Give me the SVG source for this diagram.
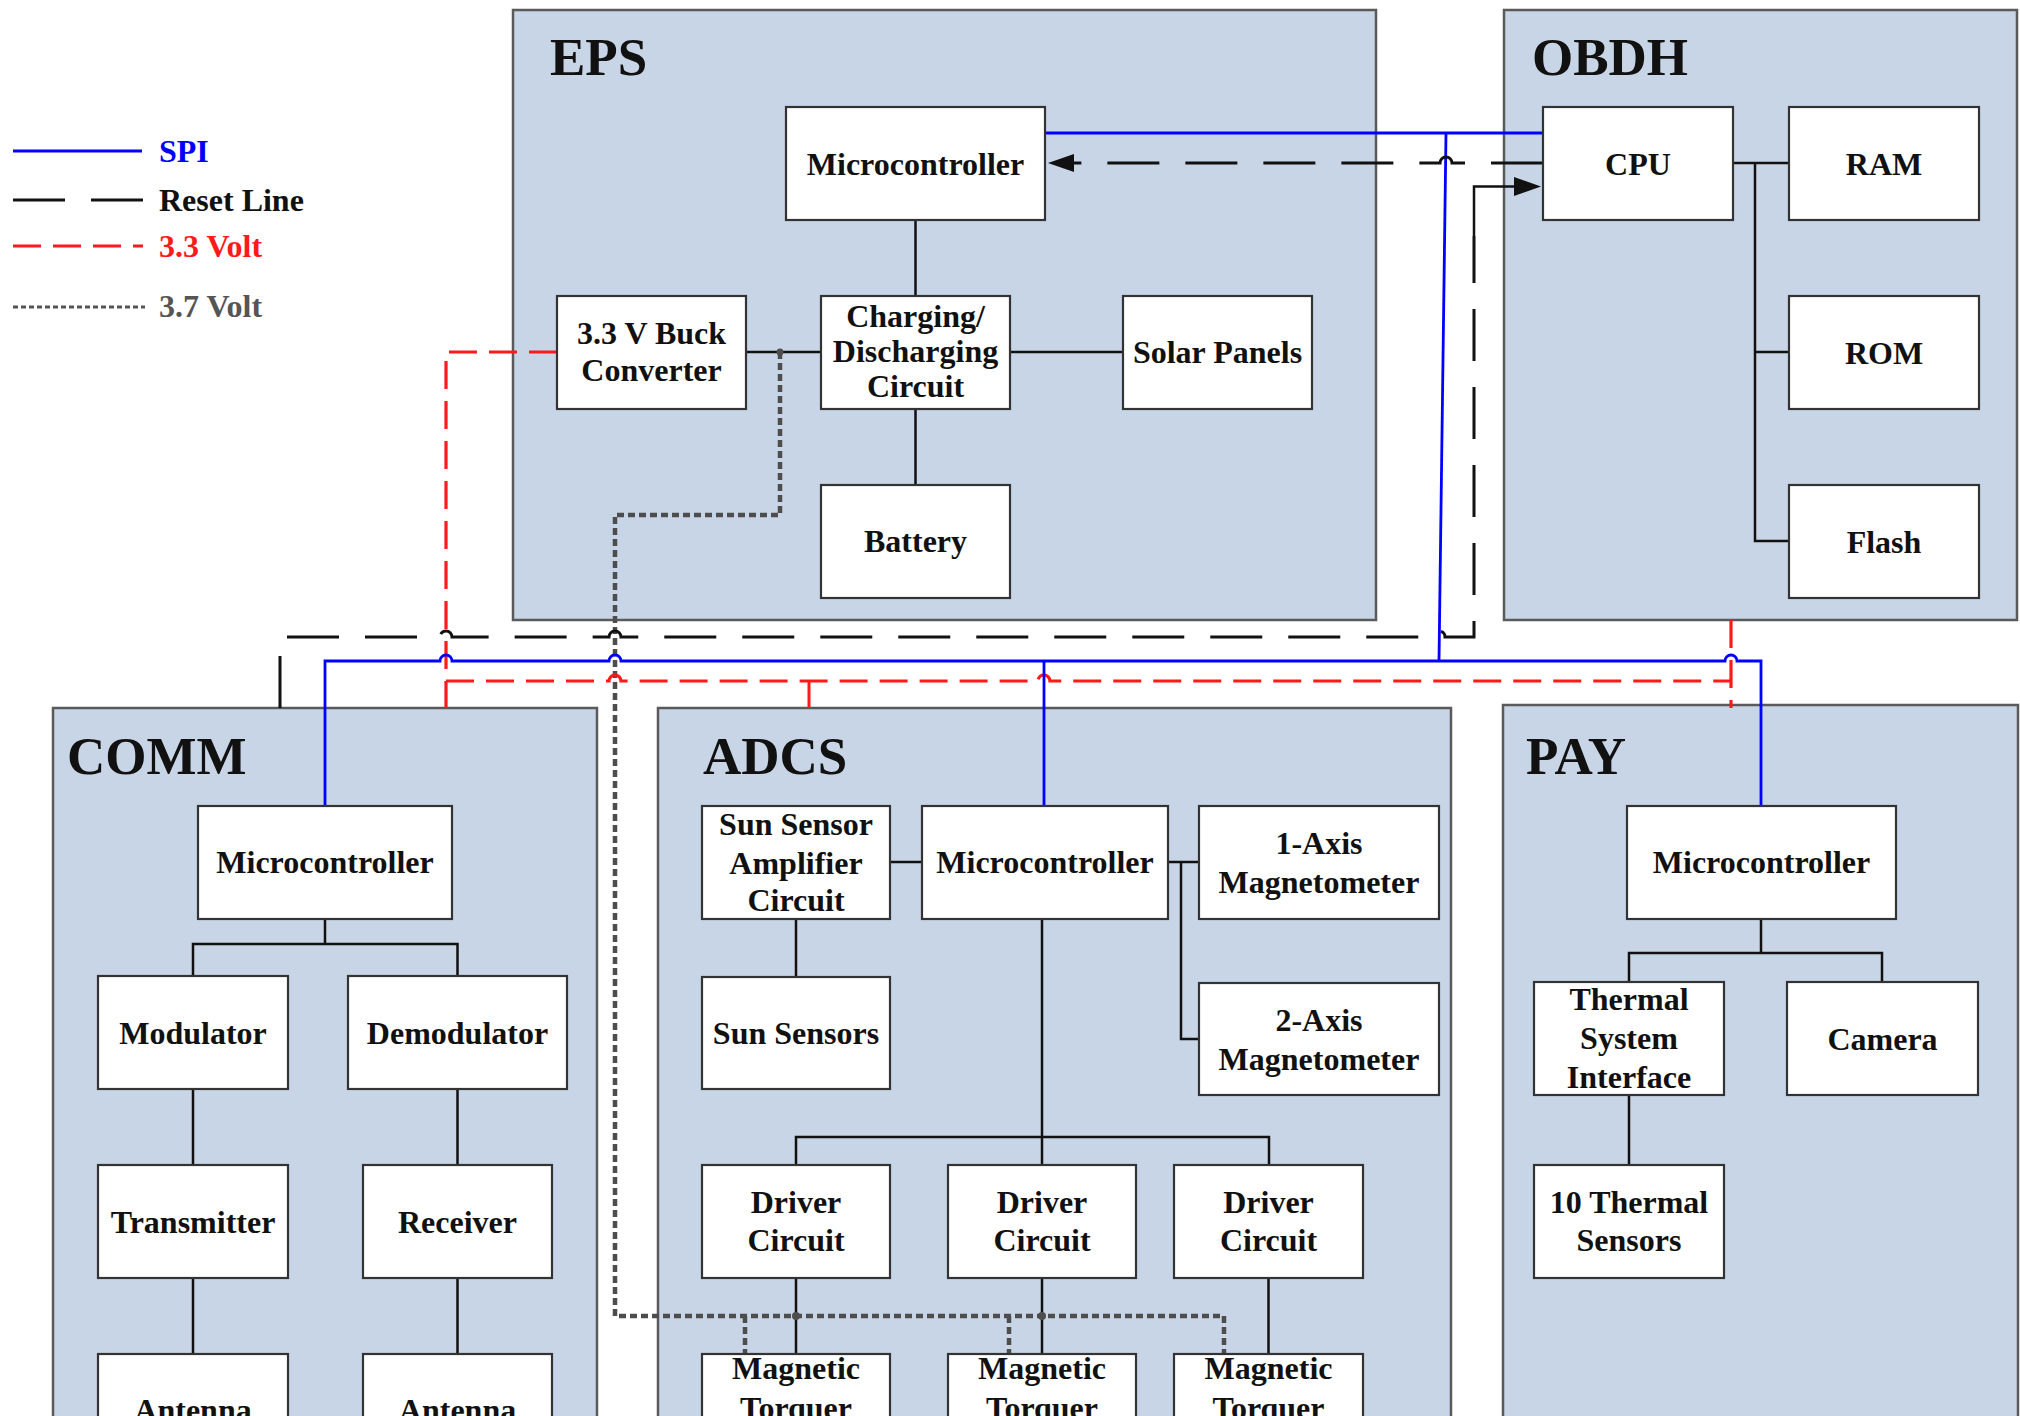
<svg xmlns="http://www.w3.org/2000/svg" width="2020" height="1416" viewBox="0 0 2020 1416">
<defs>
<style>
.container{fill:#C8D5E6;stroke:#5a5a5a;stroke-width:2.5}
.node rect{fill:#ffffff;stroke:#333333;stroke-width:2.2}
.lbl{font-family:"Liberation Serif","Times New Roman",serif;font-weight:bold;font-size:32px;fill:#111111;text-anchor:middle}
.title{font-family:"Liberation Serif","Times New Roman",serif;font-weight:bold;font-size:53px;fill:#111111}
.leg{font-family:"Liberation Serif","Times New Roman",serif;font-weight:bold;font-size:32px}
.wire{fill:none;stroke:#111111;stroke-width:2.5}
.spi{fill:none;stroke:#0000ff;stroke-width:2.8}
.v33{fill:none;stroke:#ff1a1a;stroke-width:3.2;stroke-dasharray:28 12}
.v37{fill:none;stroke:#4d4d4d;stroke-width:4.5;stroke-dasharray:7 4}
.reset{fill:none;stroke:#111111;stroke-width:3;stroke-dasharray:52 26}
</style>
</defs>
<rect x="0" y="0" width="2020" height="1416" fill="#ffffff"/>

<g id="legend">
<line x1="13" y1="151" x2="142" y2="151" class="spi" stroke-width="3.2"/>
<text x="159" y="162" class="leg" fill="#0000ff">SPI</text>
<line x1="13" y1="200" x2="143" y2="200" class="reset" stroke-width="3.5"/>
<text x="159" y="211" class="leg" fill="#111111">Reset Line</text>
<line x1="13" y1="246" x2="143" y2="246" class="v33"/>
<text x="159" y="257" class="leg" fill="#ff1a1a">3.3 Volt</text>
<line x1="13" y1="307" x2="145" y2="307" fill="none" stroke="#555555" stroke-width="3" stroke-dasharray="5 3"/>
<text x="159" y="317" class="leg" fill="#555555">3.7 Volt</text>
</g>

<g id="eps">
<rect class="container" x="513" y="10" width="863" height="610"/>
<text class="title" x="550" y="75">EPS</text>
</g>
<g id="obdh">
<rect class="container" x="1504" y="10" width="513" height="610"/>
<text class="title" x="1532" y="75">OBDH</text>
</g>
<g id="comm">
<rect class="container" x="53" y="708" width="544" height="730"/>
<text class="title" x="67" y="774">COMM</text>
</g>
<g id="adcs">
<rect class="container" x="658" y="708" width="793" height="730"/>
<text class="title" x="703" y="774">ADCS</text>
</g>
<g id="pay">
<rect class="container" x="1503" y="705" width="515" height="730"/>
<text class="title" x="1526" y="774">PAY</text>
</g>

<g id="connectors">
<!-- EPS internal -->
<path class="wire" d="M915.5,220 V296 M746,352 H821 M1010,352 H1123 M915.5,409 V485"/>
<!-- OBDH internal -->
<path class="wire" d="M1733,163 H1789 M1755,163 V541 H1789 M1755,352 H1789"/>
<!-- COMM internal -->
<path class="wire" d="M325,919 V944 M193,976 V944 H457.5 V976 M193,1089 V1165 M457.5,1089 V1165 M193,1278 V1354 M457.5,1278 V1354"/>
<!-- ADCS internal -->
<path class="wire" d="M890,862 H922 M1168,862 H1199 M1181,862 V1039 H1199 M796,919 V977 M1042,919 V1165 M796,1165 V1137 H1269 V1165 M796,1278 V1354 M1042,1278 V1354 M1268.5,1278 V1354"/>
<!-- PAY internal -->
<path class="wire" d="M1761,919 V953 M1629,982 V953 H1882 V982 M1629,1095 V1165"/>

<!-- 3.7 V -->
<path class="v37" d="M780,352 V515 H615 V1316 H1224 V1354"/>
<path class="v37" d="M745,1316 V1354 M1009,1316 V1354"/>
<circle cx="780" cy="352" r="3.5" fill="#4d4d4d"/>
<circle cx="796" cy="1316" r="4" fill="#4d4d4d"/>
<circle cx="1042" cy="1316" r="4" fill="#4d4d4d"/>

<!-- 3.3 V -->
<path class="v33" d="M557,352 H446 V708"/>
<path class="v33" d="M446,681 H609 a6,6 0 0 1 12,0 H1038 a6,6 0 0 1 12,0 H1731"/>
<path fill="none" stroke="#ff1a1a" stroke-width="3" d="M809,681 V708"/>
<path class="v33" stroke-dasharray="40 10" d="M1731,620 V708"/>

<!-- SPI -->
<path class="spi" d="M1045,133 H1543"/>
<path class="spi" d="M1446,133 L1439,661"/>
<path class="spi" d="M325,806 V661 H440 a6,6 0 0 1 12,0 H609 a6,6 0 0 1 12,0 H1725 a6,6 0 0 1 12,0 H1761 V806"/>
<path class="spi" d="M1044,661 V806"/>

<!-- Reset lines -->
<path class="reset" d="M280,708 V637 H440 a6,6 0 0 1 12,0 H609 a6,6 0 0 1 12,0 H1433 a6,6 0 0 1 12,0 H1474 V236"/>
<path class="wire" stroke-width="3" d="M1474,236 V186.5 H1517"/>
<polygon points="1541,186.5 1514,177 1514,196" fill="#111111"/>
<path class="reset" d="M1543,163 H1452 a6,6 0 0 0 -12,0 H1072"/>
<polygon points="1048,163 1074,154 1074,172" fill="#111111"/>
</g>

<!-- EPS nodes -->
<g id="eps-mcu" class="node"><rect x="786" y="107" width="259" height="113"/><text class="lbl" x="915.5" y="175">Microcontroller</text></g>
<g id="eps-buck" class="node"><rect x="557" y="296" width="189" height="113"/><text class="lbl" x="651.5" y="344">3.3 V Buck</text><text class="lbl" x="651.5" y="381">Converter</text></g>
<g id="eps-charge" class="node"><rect x="821" y="296" width="189" height="113"/><text class="lbl" x="915.5" y="327" font-size="30">Charging/</text><text class="lbl" x="915.5" y="362" font-size="30">Discharging</text><text class="lbl" x="915.5" y="397" font-size="30">Circuit</text></g>
<g id="eps-solar" class="node"><rect x="1123" y="296" width="189" height="113"/><text class="lbl" x="1217.5" y="363">Solar Panels</text></g>
<g id="eps-battery" class="node"><rect x="821" y="485" width="189" height="113"/><text class="lbl" x="915.5" y="552">Battery</text></g>

<!-- OBDH nodes -->
<g id="obdh-cpu" class="node"><rect x="1543" y="107" width="190" height="113"/><text class="lbl" x="1638" y="175">CPU</text></g>
<g id="obdh-ram" class="node"><rect x="1789" y="107" width="190" height="113"/><text class="lbl" x="1884" y="175">RAM</text></g>
<g id="obdh-rom" class="node"><rect x="1789" y="296" width="190" height="113"/><text class="lbl" x="1884" y="364">ROM</text></g>
<g id="obdh-flash" class="node"><rect x="1789" y="485" width="190" height="113"/><text class="lbl" x="1884" y="553">Flash</text></g>

<!-- COMM nodes -->
<g id="comm-mcu" class="node"><rect x="198" y="806" width="254" height="113"/><text class="lbl" x="325" y="873">Microcontroller</text></g>
<g id="comm-mod" class="node"><rect x="98" y="976" width="190" height="113"/><text class="lbl" x="193" y="1044">Modulator</text></g>
<g id="comm-demod" class="node"><rect x="348" y="976" width="219" height="113"/><text class="lbl" x="457.5" y="1044">Demodulator</text></g>
<g id="comm-tx" class="node"><rect x="98" y="1165" width="190" height="113"/><text class="lbl" x="193" y="1233">Transmitter</text></g>
<g id="comm-rx" class="node"><rect x="363" y="1165" width="189" height="113"/><text class="lbl" x="457.5" y="1233">Receiver</text></g>
<g id="comm-ant1" class="node"><rect x="98" y="1354" width="190" height="113"/><text class="lbl" x="193" y="1421">Antenna</text></g>
<g id="comm-ant2" class="node"><rect x="363" y="1354" width="189" height="113"/><text class="lbl" x="457.5" y="1421">Antenna</text></g>

<!-- ADCS nodes -->
<g id="adcs-ssa" class="node"><rect x="702" y="806" width="188" height="113"/><text class="lbl" x="796" y="835">Sun Sensor</text><text class="lbl" x="796" y="874">Amplifier</text><text class="lbl" x="796" y="911">Circuit</text></g>
<g id="adcs-mcu" class="node"><rect x="922" y="806" width="246" height="113"/><text class="lbl" x="1045" y="873">Microcontroller</text></g>
<g id="adcs-mag1" class="node"><rect x="1199" y="806" width="240" height="113"/><text class="lbl" x="1319" y="854">1-Axis</text><text class="lbl" x="1319" y="893">Magnetometer</text></g>
<g id="adcs-sun" class="node"><rect x="702" y="977" width="188" height="112"/><text class="lbl" x="796" y="1044">Sun Sensors</text></g>
<g id="adcs-mag2" class="node"><rect x="1199" y="983" width="240" height="112"/><text class="lbl" x="1319" y="1031">2-Axis</text><text class="lbl" x="1319" y="1070">Magnetometer</text></g>
<g id="adcs-drv1" class="node"><rect x="702" y="1165" width="188" height="113"/><text class="lbl" x="796" y="1213">Driver</text><text class="lbl" x="796" y="1251">Circuit</text></g>
<g id="adcs-drv2" class="node"><rect x="948" y="1165" width="188" height="113"/><text class="lbl" x="1042" y="1213">Driver</text><text class="lbl" x="1042" y="1251">Circuit</text></g>
<g id="adcs-drv3" class="node"><rect x="1174" y="1165" width="189" height="113"/><text class="lbl" x="1268.5" y="1213">Driver</text><text class="lbl" x="1268.5" y="1251">Circuit</text></g>
<g id="adcs-mt1" class="node"><rect x="702" y="1354" width="188" height="113"/><text class="lbl" x="796" y="1379">Magnetic</text><text class="lbl" x="796" y="1419">Torquer</text></g>
<g id="adcs-mt2" class="node"><rect x="948" y="1354" width="188" height="113"/><text class="lbl" x="1042" y="1379">Magnetic</text><text class="lbl" x="1042" y="1419">Torquer</text></g>
<g id="adcs-mt3" class="node"><rect x="1174" y="1354" width="189" height="113"/><text class="lbl" x="1268.5" y="1379">Magnetic</text><text class="lbl" x="1268.5" y="1419">Torquer</text></g>

<!-- PAY nodes -->
<g id="pay-mcu" class="node"><rect x="1627" y="806" width="269" height="113"/><text class="lbl" x="1761.5" y="873">Microcontroller</text></g>
<g id="pay-tsi" class="node"><rect x="1534" y="982" width="190" height="113"/><text class="lbl" x="1629" y="1010">Thermal</text><text class="lbl" x="1629" y="1049">System</text><text class="lbl" x="1629" y="1088">Interface</text></g>
<g id="pay-camera" class="node"><rect x="1787" y="982" width="191" height="113"/><text class="lbl" x="1882.5" y="1050">Camera</text></g>
<g id="pay-sensors" class="node"><rect x="1534" y="1165" width="190" height="113"/><text class="lbl" x="1629" y="1213">10 Thermal</text><text class="lbl" x="1629" y="1251">Sensors</text></g>
</svg>
